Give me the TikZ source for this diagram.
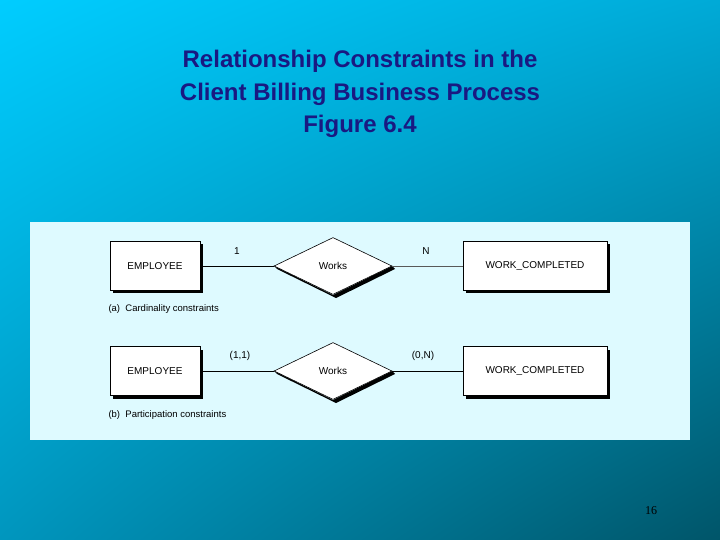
\documentclass[tikz,border=0pt]{standalone}
\usepackage{fontspec}
\setmainfont{Liberation Sans}
\newfontfamily\serifnum{Liberation Serif}
\usetikzlibrary{shapes.geometric,shadings}
\definecolor{ttl}{RGB}{25,25,130}
\definecolor{panel}{RGB}{222,250,255}
\definecolor{bgul}{RGB}{0,205,255}
\definecolor{bgur}{RGB}{0,170,215}
\definecolor{bgll}{RGB}{0,150,190}
\definecolor{bglr}{RGB}{0,85,105}
\tikzset{
  ent/.style={draw,line width=0.6pt,fill=white,minimum width=90pt,minimum height=49pt,font=\fontsize{10}{12}\selectfont,inner sep=0},
  rel/.style={draw,line width=0.6pt,fill=white,diamond,aspect=2.07,minimum width=118pt,minimum height=57pt,inner sep=0,font=\fontsize{10}{12}\selectfont},
  lbl/.style={font=\fontsize{10}{12}\selectfont},
  captxt/.style={font=\fontsize{9.5}{12}\selectfont,anchor=west}
}
\begin{document}
\begin{tikzpicture}[x=1pt,y=-1pt]
\useasboundingbox (0,0) rectangle (720,540);
\shade[upper left=bgul,upper right=bgur,lower left=bgll,lower right=bglr] (0,0) rectangle (720,540);
\node[text=ttl,font=\bfseries\fontsize{24}{32.5}\selectfont,align=center] (title) at (360,94) {Relationship Constraints in the\\Client Billing Business Process\\Figure 6.4};
\fill[panel] (30,222) rectangle (690,440);
% row a
\fill (113,244) rectangle (203,293);
\fill (466,244) rectangle (610,293);
\node[ent] (e1) at (155,266) {EMPLOYEE};
\node[ent,minimum width=144pt] (w1) at (535,266) {WORK\_COMPLETED};
\fill (277,269) -- (336,298) -- (395,269) -- (392,266) -- (333,295) -- (274,266) -- cycle;
\node[rel] (r1) at (333,266) {Works};
\draw[line width=0.6pt] (e1.east) -- (r1.west);
\draw[line width=0.8pt,gray!70!black] (r1.east) -- (w1.west);
\node[lbl] (c1) at (237,251) {1};
\node[lbl] (c2) at (426,251) {N};
\node[captxt] (capa) at (105,309) {(a)\ \ Cardinality constraints};
% row b
\fill (113,350) rectangle (203,399);
\fill (466,350) rectangle (610,399);
\node[ent] (e2) at (155,371) {EMPLOYEE};
\node[ent,minimum width=144pt] (w2) at (535,371) {WORK\_COMPLETED};
\fill (277,374) -- (336,403) -- (395,374) -- (392,371) -- (333,400) -- (274,371) -- cycle;
\node[rel] (r2) at (333,371) {Works};
\draw[line width=0.6pt] (e2.east) -- (r2.west);
\draw[line width=0.6pt] (r2.east) -- (w2.west);
\node[lbl] (c3) at (240,356) {(1,1)};
\node[lbl] (c4) at (423,356) {(0,N)};
\node[captxt] (capb) at (105,415) {(b)\ \ Participation constraints};
\node[font=\serifnum\fontsize{12}{14}\selectfont] (pg) at (651,511) {16};
\end{tikzpicture}
\end{document}
